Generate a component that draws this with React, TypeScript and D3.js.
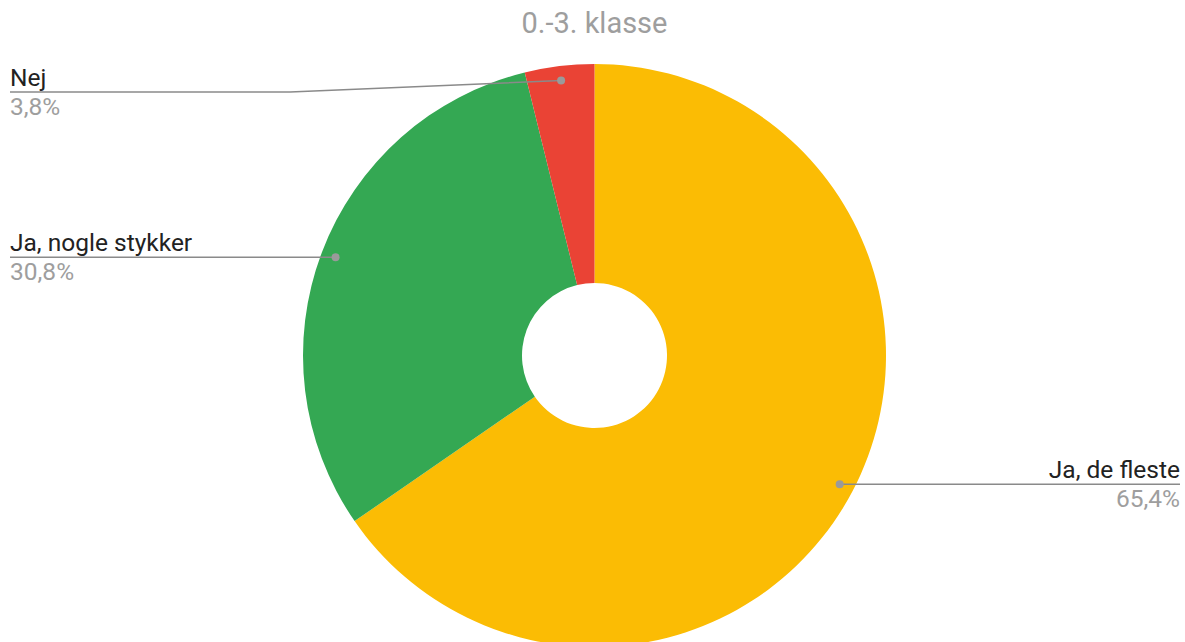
import React from "react";
import * as d3 from "d3";

const categories = ["Ja, de fleste", "Ja, nogle stykker", "Nej"];
const values = [17, 8, 1];
const percentLabels = ["65,4%", "30,8%", "3,8%"];
const colors = ["#fbbc04", "#34a853", "#ea4335"];
const title = "0.-3. klasse";

const W = 1185;
const H = 642;
const cx = 594.5;
const cy = 355.5;
const outerR = 291.5;
const innerR = 72.5;
const minLabelY = 92;

export default function App() {
  const pie = d3.pie<number>().sort(null).value((d) => d);
  const arcs = pie(values);
  const arc = d3.arc<d3.PieArcDatum<number>>().innerRadius(innerR).outerRadius(outerR);
  const dotArc = d3.arc<d3.PieArcDatum<number>>().innerRadius(outerR * 0.95).outerRadius(outerR * 0.95);
  const font = "Roboto, 'Noto Sans', sans-serif";

  return (
    <svg width={W} height={H} style={{ position: "absolute", left: 0, top: 0, display: "block" }}>
      <rect width={W} height={H} fill="#ffffff" />
      <text x={cx} y={33} textAnchor="middle" fontFamily={font} fontSize={29} fill="#9e9e9e">
        {title}
      </text>
      <g transform={`translate(${cx},${cy})`}>
        {arcs.map((a, i) => (
          <path key={i} d={arc(a) || ""} fill={colors[i]} />
        ))}
      </g>
      {arcs.map((a, i) => {
        const [dx, dy] = dotArc.centroid(a);
        const px = cx + dx;
        const py = cy + dy;
        const right = px > cx;
        const lineY = Math.max(py, minLabelY);
        const endX = right ? 1180 : 10;
        const pts: [number, number][] =
          Math.abs(lineY - py) > 0.5
            ? [[px, py], [290, lineY], [endX, lineY]]
            : [[px, py], [endX, lineY]];
        const line = d3.line();
        return (
          <g key={i}>
            <path d={line(pts) || ""} fill="none" stroke="#8a8a8a" strokeWidth={1.5} />
            <circle cx={px} cy={py} r={4} fill="#9a9a9a" />
            <text x={endX} y={lineY - 6} textAnchor={right ? "end" : "start"} fontFamily={font} fontSize={24.5} fill="#222222">
              {categories[i]}
            </text>
            <text x={endX} y={lineY + 23} textAnchor={right ? "end" : "start"} fontFamily={font} fontSize={24.5} fill="#9e9e9e">
              {percentLabels[i]}
            </text>
          </g>
        );
      })}
    </svg>
  );
}
